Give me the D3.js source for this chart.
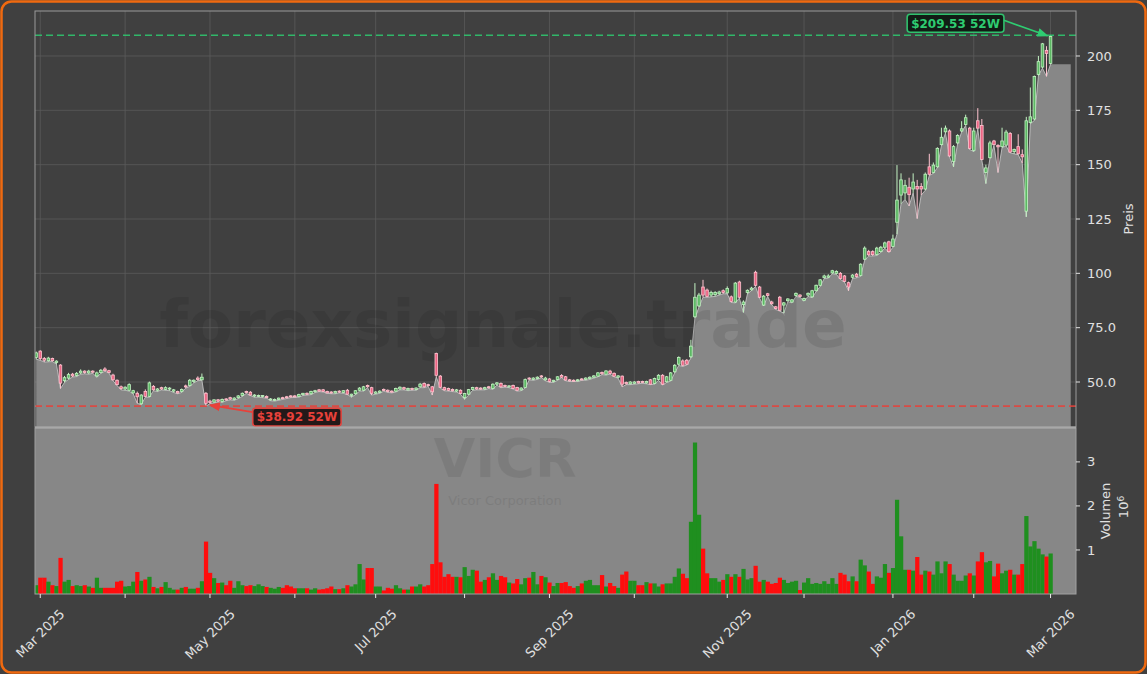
<!DOCTYPE html>
<html><head><meta charset="utf-8">
<script src="https://cdn.jsdelivr.net/npm/d3@7"></script>
<style>html,body{margin:0;padding:0;background:#404040;}svg{display:block;}</style>
</head><body>
<svg id="chart" width="1147" height="674"></svg>
<script>
// ---------------- DATA (VICR daily, Feb 28 2025 .. Mar 2 2026) ----------------
const opens = [
61.3,64.2,60.8,59.8,60.8,59.0,57.8,50.6,51.8,53.6,
53.0,54.2,55.0,54.2,55.0,52.8,54.4,56.0,55.2,53.2,
50.8,47.8,46.8,46.2,45.0,44.8,40.0,45.6,43.4,48.0,
46.2,47.4,46.6,46.8,45.8,45.6,45.6,48.2,48.4,50.2,
51.8,51.0,44.8,41.2,40.8,41.8,41.0,42.2,42.8,42.0,
42.8,43.8,45.6,45.3,43.6,43.4,43.4,43.4,41.8,41.6,
42.0,42.8,43.2,43.6,43.6,43.4,44.2,44.8,44.6,45.6,
46.4,46.4,45.6,45.4,45.0,45.8,45.2,46.2,43.8,44.6,
46.2,46.2,48.4,47.4,44.8,45.2,46.6,46.2,45.8,45.8,
46.8,47.4,46.4,47.0,46.6,47.8,49.3,48.8,47.8,63.1,
52.7,47.4,47.0,46.6,45.8,46.2,42.8,44.4,46.6,47.4,
47.2,46.8,47.8,47.0,49.0,49.3,48.4,47.8,48.4,47.5,
46.4,47.5,51.8,51.2,51.6,52.8,51.0,51.4,50.2,51.2,
53.0,52.4,51.0,50.8,50.6,51.4,51.2,51.6,52.2,52.7,
54.4,53.6,55.0,54.0,52.2,52.7,49.8,49.2,49.4,50.2,
50.2,49.6,51.0,49.3,51.2,53.1,50.1,50.8,54.7,58.2,
59.7,60.0,61.6,80.0,85.0,93.7,92.3,90.0,90.2,90.6,
92.0,91.0,89.2,86.8,96.0,85.6,91.2,92.4,100.5,93.7,
85.4,90.6,86.8,84.6,89.0,85.4,87.4,86.8,89.8,90.0,
87.6,90.0,89.2,92.0,94.5,98.0,98.2,100.2,100.0,100.0,
98.8,95.7,98.2,99.6,99.0,106.5,110.0,110.0,108.7,110.0,
112.0,114.5,112.4,123.5,136.0,137.0,139.6,138.8,140.0,140.0,
138.8,149.0,146.4,149.0,159.2,165.1,165.5,151.5,160.0,165.5,
168.5,166.8,156.6,170.2,168.0,146.4,153.2,160.9,158.8,158.3,
159.0,164.3,156.0,158.3,154.6,128.6,169.4,171.0,191.5,194.9,
202.6,196.6];
const highs = [
64.0,64.6,61.5,61.6,61.2,60.0,58.2,52.8,54.2,54.2,
54.6,55.8,55.4,55.6,55.4,54.8,56.0,56.8,55.6,53.8,
51.2,48.4,48.0,49.4,46.4,45.6,44.4,46.6,50.2,48.6,
47.2,47.8,48.0,47.6,46.8,46.0,47.0,48.8,51.4,51.2,
52.6,53.9,45.4,41.8,42.0,42.2,42.4,42.6,43.2,43.0,
44.0,45.2,46.0,45.8,44.4,44.2,44.0,43.8,42.6,42.4,
42.8,43.2,43.6,44.0,44.0,44.6,45.0,45.2,46.0,46.4,
46.8,46.8,46.0,45.8,46.0,46.2,46.2,46.8,44.6,46.2,
47.6,48.2,48.8,47.8,45.8,46.2,47.0,46.6,46.2,47.4,
48.0,47.8,47.4,47.4,47.6,49.6,49.8,49.2,48.2,63.5,
53.2,47.8,47.4,47.0,46.8,46.6,45.0,46.8,47.8,47.8,
47.6,47.8,48.2,49.4,50.0,49.8,48.8,48.6,48.8,47.8,
47.6,51.6,52.2,52.2,52.6,53.2,52.4,51.8,51.0,52.6,
53.6,52.8,51.4,51.2,51.4,51.8,52.2,52.6,53.2,54.6,
54.8,55.4,55.6,54.4,53.2,53.0,50.2,50.4,50.4,50.6,
50.6,50.6,51.4,52.0,53.6,53.6,52.8,54.6,58.2,61.8,
60.4,60.6,69.4,95.5,91.0,97.0,93.0,92.0,91.8,92.0,
92.6,94.0,89.8,96.0,96.6,87.6,92.6,93.8,101.2,94.2,
90.0,91.0,87.4,85.0,89.6,86.8,88.6,88.2,91.2,90.4,
88.8,91.2,92.4,94.8,97.4,99.4,99.6,101.6,101.4,100.6,
99.2,96.2,99.6,100.2,104.6,112.4,110.8,110.6,112.2,112.6,
114.6,115.0,117.8,149.8,146.0,143.0,144.0,146.0,143.0,141.5,
146.4,155.0,151.0,158.0,167.0,168.0,166.2,159.0,164.0,170.0,
173.0,167.4,167.0,176.0,171.0,150.0,161.0,161.4,159.4,167.0,
166.0,165.0,157.4,164.0,157.0,172.0,185.5,191.0,200.0,206.0,
204.5,209.53];
const lows = [
60.5,60.0,59.2,59.3,59.4,58.3,47.0,49.8,51.2,52.3,
52.5,53.6,53.8,53.6,54.0,52.2,54.0,55.0,54.2,50.6,
48.4,46.4,46.2,45.8,44.6,40.2,39.6,43.0,43.0,46.0,
45.6,46.4,46.2,46.0,45.2,44.6,45.2,47.2,48.0,49.6,
50.6,50.8,38.92,40.0,40.4,40.8,40.6,41.4,41.8,41.6,
42.4,43.4,44.8,43.8,43.0,43.0,42.8,42.6,41.4,41.2,
41.6,42.0,42.4,42.8,42.9,43.0,43.8,44.0,44.2,45.2,
45.6,45.4,44.8,44.6,44.6,45.0,44.8,44.2,43.0,44.2,
45.8,45.8,47.4,44.0,44.4,44.8,45.8,45.2,45.0,45.4,
46.4,46.4,46.0,46.2,46.2,47.4,47.4,48.0,44.0,52.4,
47.2,46.0,45.8,45.6,45.4,44.4,42.0,44.0,46.2,46.4,
46.4,46.4,47.0,46.6,48.6,47.4,47.6,47.4,46.8,45.8,
46.0,47.2,51.0,50.8,51.2,52.0,50.6,49.8,49.8,50.8,
52.0,50.6,50.2,50.2,50.2,50.8,50.8,51.2,51.8,52.4,
53.4,53.2,53.6,52.4,51.8,47.8,48.8,48.8,49.0,49.2,
49.4,49.2,48.8,49.0,50.8,48.6,49.8,50.4,54.2,57.6,
57.2,57.8,61.0,79.4,84.5,89.0,89.0,89.2,89.4,90.0,
90.6,90.6,86.6,86.4,88.6,82.0,90.6,92.0,94.0,88.6,
85.0,89.4,85.6,83.4,82.6,81.7,87.0,86.4,89.4,89.0,
87.2,89.4,88.8,91.6,94.0,97.6,97.8,99.8,99.6,97.2,
96.0,92.0,97.6,98.0,98.6,106.0,108.0,108.0,108.2,109.6,
111.6,109.6,112.0,118.0,132.0,134.0,131.0,137.0,125.2,136.0,
138.2,145.0,146.0,148.6,158.8,164.6,153.6,149.0,159.6,165.0,
168.0,157.0,156.0,166.4,152.0,141.3,152.8,158.8,146.4,157.8,
158.6,155.4,155.0,154.6,150.7,126.0,168.8,170.4,191.0,194.4,
190.6,196.2];
const closes = [
63.4,60.8,60.0,61.0,59.8,59.6,49.5,52.0,53.4,52.8,
54.0,55.0,54.4,55.0,54.5,54.2,55.4,55.2,54.4,51.0,
48.8,47.0,47.6,48.8,46.0,43.2,44.0,43.4,49.6,46.4,
46.8,46.8,47.4,47.2,46.4,45.0,46.6,47.8,50.8,50.8,
51.2,52.2,40.2,40.6,41.8,41.2,42.0,41.8,42.2,42.6,
43.6,44.8,45.2,44.0,44.0,43.8,43.8,42.8,42.2,42.0,
42.6,42.4,42.8,43.2,43.2,44.2,44.8,44.4,45.6,46.0,
45.8,45.6,45.0,45.0,45.6,45.4,46.0,44.4,44.4,46.0,
47.2,47.8,47.8,44.8,45.4,45.8,46.2,45.6,45.4,47.0,
47.6,46.8,47.0,46.6,47.2,49.0,47.8,48.4,45.5,53.1,
47.6,46.4,46.2,46.0,46.4,44.7,44.7,46.5,47.5,46.8,
46.8,47.4,47.4,49.0,49.6,47.8,48.0,48.2,47.0,46.2,
47.2,51.1,51.4,51.8,52.2,52.4,51.8,50.2,50.8,52.4,
52.2,50.9,50.5,50.5,51.0,51.2,51.8,52.2,52.8,54.2,
53.8,55.1,53.9,52.7,52.8,49.0,49.2,50.0,50.0,49.6,
49.8,50.2,49.0,51.6,53.1,49.0,52.4,54.2,57.7,61.3,
57.7,58.2,66.5,89.0,90.0,90.0,89.4,91.2,91.2,91.4,
91.2,93.0,87.0,95.5,89.0,86.8,92.2,93.2,94.5,89.0,
89.5,89.8,86.0,83.8,83.0,86.4,88.2,87.8,90.8,89.4,
88.4,90.8,92.0,94.5,97.0,98.8,98.8,101.2,100.8,97.6,
96.3,93.7,99.2,98.5,104.2,111.6,108.5,108.6,111.6,112.0,
114.0,110.0,115.8,133.7,143.0,140.5,136.2,142.0,138.8,138.8,
145.6,145.6,149.8,157.5,162.6,166.8,154.0,158.3,163.4,166.5,
171.6,157.5,165.5,166.8,152.4,148.5,160.0,159.2,158.2,160.9,
165.0,155.8,157.0,155.0,153.6,170.2,172.0,190.6,197.4,205.6,
201.2,209.0];
// volume in millions of shares
const volumes = [
0.20,0.37,0.37,0.28,0.20,0.18,0.82,0.28,0.32,0.18,
0.20,0.18,0.20,0.17,0.14,0.37,0.14,0.14,0.14,0.14,
0.28,0.30,0.17,0.18,0.28,0.50,0.30,0.33,0.39,0.16,
0.13,0.16,0.27,0.14,0.10,0.10,0.14,0.16,0.12,0.12,
0.14,0.29,1.19,0.48,0.36,0.25,0.26,0.20,0.30,0.14,
0.29,0.20,0.18,0.20,0.18,0.22,0.18,0.16,0.14,0.12,
0.16,0.14,0.20,0.17,0.13,0.13,0.13,0.13,0.10,0.13,
0.10,0.11,0.13,0.17,0.11,0.11,0.13,0.20,0.17,0.22,
0.68,0.33,0.59,0.59,0.17,0.17,0.08,0.14,0.12,0.20,
0.13,0.10,0.10,0.17,0.17,0.22,0.17,0.20,0.68,2.50,
0.72,0.39,0.45,0.39,0.39,0.38,0.61,0.41,0.55,0.53,
0.28,0.32,0.38,0.47,0.32,0.41,0.38,0.26,0.24,0.34,
0.22,0.36,0.37,0.50,0.22,0.41,0.38,0.26,0.18,0.25,
0.25,0.27,0.18,0.14,0.18,0.24,0.30,0.32,0.20,0.20,
0.43,0.17,0.25,0.18,0.14,0.44,0.51,0.30,0.30,0.20,
0.20,0.27,0.24,0.24,0.17,0.22,0.24,0.24,0.39,0.58,
0.46,0.36,1.64,3.44,1.80,1.03,0.47,0.36,0.36,0.28,
0.32,0.45,0.39,0.45,0.39,0.57,0.33,0.36,0.64,0.28,
0.32,0.28,0.23,0.25,0.37,0.32,0.25,0.28,0.30,0.09,
0.26,0.36,0.23,0.25,0.23,0.29,0.23,0.36,0.23,0.48,
0.44,0.29,0.40,0.29,0.78,0.65,0.51,0.23,0.40,0.37,
0.68,0.48,0.59,2.14,1.31,0.55,0.55,0.53,0.84,0.44,
0.53,0.51,0.44,0.74,0.47,0.74,0.68,0.44,0.30,0.30,
0.42,0.47,0.42,0.74,0.95,0.72,0.75,0.40,0.69,0.47,
0.53,0.55,0.44,0.44,0.68,1.77,1.08,1.20,1.03,0.90,
0.85,0.92];
// the shaded price area continues flat for a few sessions after the last candle
const areaTail = [196.2,196.2,196.2,196.2,196.2];
const holidays = ["2025-04-18","2025-05-26","2025-06-19","2025-07-04","2025-09-01",
                  "2025-11-27","2025-12-25","2026-01-01","2026-01-19","2026-02-16"];
const monthLabels = ["Mar 2025","","May 2025","","Jul 2025","","Sep 2025","","Nov 2025","","Jan 2026","","Mar 2026"];
const priceTicks = [50,75,100,125,150,175,200];
const priceTickLabels = ["50.0","75.0","100","125","150","175","200"];
const volumeTicks = [1,2,3];
const volumeTickLabels = ["1","2","3"];
const ticker = "VICR", company = "Vicor Corporation", watermark = "forexsignale.trade";

// ---------------- trading calendar ----------------
const dates = [];
for (let d = new Date(Date.UTC(2025,1,28)); dates.length < closes.length; d.setUTCDate(d.getUTCDate()+1)) {
  const dow = d.getUTCDay(), s = d.toISOString().slice(0,10);
  if (dow === 0 || dow === 6 || holidays.includes(s)) continue;
  dates.push(new Date(d));
}
const monthTickIdx = [];
for (let i = 1; i < dates.length; i++) if (dates[i].getUTCMonth() !== dates[i-1].getUTCMonth()) monthTickIdx.push(i);

// ---------------- layout ----------------
const W = 1147, H = 674;
const X0 = 35, X1 = 1076, PY0 = 11, PY1 = 427, VY0 = 428, VY1 = 594;
const FONT = "DejaVu Sans";
const svg = d3.select("#chart");
svg.append("rect").attr("x",0).attr("y",0).attr("width",W).attr("height",H).attr("fill","#404040");

const n = closes.length;
const x = d3.scaleLinear().domain([-0.3, n + 5.3]).range([X0, X1]);
const y = d3.scaleLinear().domain([29.3, 220.7]).range([PY1, PY0]);
const yv = d3.scaleLinear().domain([0, 3.77]).range([VY1, VY0]);
const step = x(1) - x(0);

const defs = svg.append("defs");
defs.append("clipPath").attr("id","clipP").append("rect").attr("x",X0).attr("y",PY0).attr("width",X1-X0).attr("height",PY1-PY0);
defs.append("clipPath").attr("id","clipV").append("rect").attr("x",X0).attr("y",VY0).attr("width",X1-X0).attr("height",VY1-VY0);
function marker(id, color){
  defs.append("marker").attr("id",id).attr("viewBox","0 0 10 10").attr("refX",9).attr("refY",5)
    .attr("markerWidth",7).attr("markerHeight",7).attr("orient","auto-start-reverse")
    .append("path").attr("d","M0,1 L10,5 L0,9 z").attr("fill",color);
}
marker("arrG","#2ecc71"); marker("arrR","#e8413a");

// ---------------- price panel ----------------
const gP = svg.append("g");
const gridC = "#5a5a5a";
gP.selectAll("line.hg").data(priceTicks).join("line")
  .attr("x1",X0).attr("x2",X1).attr("y1",d=>y(d)).attr("y2",d=>y(d))
  .attr("stroke",gridC).attr("stroke-width",0.8);
gP.selectAll("line.vg").data(monthTickIdx).join("line")
  .attr("x1",d=>x(d)).attr("x2",d=>x(d)).attr("y1",PY0).attr("y2",PY1)
  .attr("stroke",gridC).attr("stroke-width",0.8);

const areaData = lows.map((v,i)=>[i,v]).concat(areaTail.map((v,k)=>[n+k,v]));
const pc = gP.append("g").attr("clip-path","url(#clipP)");
pc.append("path").datum(areaData)
  .attr("d", d3.area().x(d=>x(d[0])).y0(PY1).y1(d=>y(d[1])))
  .attr("fill","#878787");
pc.append("path").datum(lows.map((v,i)=>[i,v]))
  .attr("d", d3.line().x(d=>x(d[0])).y(d=>y(d[1])))
  .attr("fill","none").attr("stroke","#c8c8c8").attr("stroke-width",1).attr("opacity",0.85);

pc.append("text").attr("x",503).attr("y",347).attr("text-anchor","middle")
  .attr("font-family",FONT).attr("font-weight","bold").attr("font-size",66)
  .attr("fill","#000").attr("opacity",0.09).text(watermark);

const idx = d3.range(n);
const up = i => closes[i] >= opens[i];
const cg = pc.append("g");
cg.selectAll("line.wick").data(idx).join("line")
  .attr("x1",i=>x(i)).attr("x2",i=>x(i)).attr("y1",i=>y(highs[i])).attr("y2",i=>y(lows[i]))
  .attr("stroke",i=>up(i)?"#c2f2c2":"#ffc4d0").attr("stroke-width",1);
const bw = 2.6;
cg.selectAll("rect.body").data(idx).join("rect")
  .attr("x",i=>x(i)-bw/2).attr("width",bw)
  .attr("y",i=>y(Math.max(opens[i],closes[i])))
  .attr("height",i=>Math.max(1, Math.abs(y(opens[i])-y(closes[i]))))
  .attr("fill",i=>up(i)?"#5cb864":"#ec6584")
  .attr("stroke",i=>up(i)?"#c2f2c2":"#ffc4d0").attr("stroke-width",0.8);

// 52-week high / low markers
const hiI = d3.maxIndex(highs), loI = d3.minIndex(lows);
const hiV = highs[hiI], loV = lows[loI];
pc.append("line").attr("x1",X0).attr("x2",X1).attr("y1",y(hiV)).attr("y2",y(hiV))
  .attr("stroke","#2ecc71").attr("stroke-width",1.6).attr("stroke-dasharray","7,4").attr("opacity",0.85);
pc.append("line").attr("x1",X0).attr("x2",X1).attr("y1",y(loV)).attr("y2",y(loV))
  .attr("stroke","#e8413a").attr("stroke-width",1.6).attr("stroke-dasharray","7,4").attr("opacity",0.85);

// panel frame
gP.append("rect").attr("x",X0).attr("y",PY0).attr("width",X1-X0).attr("height",PY1-PY0)
  .attr("fill","none").attr("stroke","#9a9a9a").attr("stroke-width",1);

// price axis (right)
const ga = svg.append("g");
priceTicks.forEach((t,k)=>{
  ga.append("line").attr("x1",X1).attr("x2",X1+4).attr("y1",y(t)).attr("y2",y(t)).attr("stroke","#e0e0e0");
  ga.append("text").attr("x",X1+11).attr("y",y(t)).attr("dy","0.35em")
    .attr("font-family",FONT).attr("font-size",13).attr("fill","#e0e0e0").text(priceTickLabels[k]);
});
ga.append("text").attr("transform",`translate(1133,${(PY0+PY1)/2}) rotate(-90)`).attr("text-anchor","middle")
  .attr("font-family",FONT).attr("font-size",13).attr("fill","#e0e0e0").text("Preis");

// annotations
function annot(label, color, fill, tipX, tipY, boxCx, boxCy, mk){
  const g = svg.append("g");
  const t = g.append("text").attr("x",boxCx).attr("y",boxCy).attr("dy","0.36em").attr("text-anchor","middle")
    .attr("font-family",FONT).attr("font-weight","bold").attr("font-size",12).attr("fill",color).text(label);
  const bb = t.node().getBBox();
  const bx = bb.x-4, bwid = bb.width+8, by = boxCy-9, bh = 18;
  g.insert("rect","text").attr("x",bx).attr("y",by).attr("width",bwid).attr("height",bh).attr("rx",3)
    .attr("fill",fill).attr("stroke",color).attr("stroke-width",1.6).attr("opacity",0.92);
  const sx = (tipX > boxCx) ? bx + bwid : bx;
  const sy = (tipX > boxCx) ? boxCy - 3 : boxCy - 5;
  g.append("line").attr("x1",sx).attr("y1",sy).attr("x2",tipX).attr("y2",tipY)
    .attr("stroke",color).attr("stroke-width",1.6).attr("marker-end",`url(#${mk})`);
}
annot(`$${hiV.toFixed(2)} 52W`, "#2ecc71", "#0e1a12", x(hiI)-3, y(hiV)+0.5, x(hiI)-95, y(hiV)-12, "arrG");
annot(`$${loV.toFixed(2)} 52W`, "#e8413a", "#1c1010", x(loI)+4, y(loV)-1, x(loI)+91, y(loV)+11, "arrR");

// ---------------- volume panel ----------------
const gV = svg.append("g");
gV.append("rect").attr("x",X0).attr("y",VY0).attr("width",X1-X0).attr("height",VY1-VY0).attr("fill","#878787");
gV.append("text").attr("x",505).attr("y",477).attr("text-anchor","middle")
  .attr("font-family",FONT).attr("font-weight","bold").attr("font-size",54)
  .attr("fill","#000").attr("opacity",0.07).text(ticker);
gV.append("text").attr("x",505).attr("y",505).attr("text-anchor","middle")
  .attr("font-family",FONT).attr("font-size",13)
  .attr("fill","#000").attr("opacity",0.07).text(company);
const vc = gV.append("g").attr("clip-path","url(#clipV)");
vc.selectAll("rect.vol").data(idx).join("rect")
  .attr("x",i=>x(i)-step/2).attr("width",step+0.2)
  .attr("y",i=>yv(volumes[i])).attr("height",i=>VY1-yv(volumes[i]))
  .attr("fill",i=>up(i)?"#1f8f1f":"#ff0d0d");
gV.append("rect").attr("x",X0).attr("y",VY0).attr("width",X1-X0).attr("height",VY1-VY0)
  .attr("fill","none").attr("stroke","#a0a0a0").attr("stroke-width",1);
// separator
svg.append("line").attr("x1",X0).attr("x2",X1).attr("y1",(PY1+VY0)/2).attr("y2",(PY1+VY0)/2)
  .attr("stroke","#a8a8a8").attr("stroke-width",2);

volumeTicks.forEach((t,k)=>{
  gV.append("line").attr("x1",X1).attr("x2",X1+4).attr("y1",yv(t)).attr("y2",yv(t)).attr("stroke","#e0e0e0");
  gV.append("text").attr("x",X1+11).attr("y",yv(t)).attr("dy","0.35em")
    .attr("font-family",FONT).attr("font-size",13).attr("fill","#e0e0e0").text(volumeTickLabels[k]);
});
const vl = gV.append("text").attr("transform",`translate(1110,${(VY0+VY1)/2}) rotate(-90)`).attr("text-anchor","middle")
  .attr("font-family",FONT).attr("font-size",13).attr("fill","#e0e0e0");
vl.append("tspan").attr("x",0).attr("dy",0).text("Volumen");
vl.append("tspan").attr("x",4).attr("dy","1.35em").text("10");
vl.append("tspan").attr("dy","-0.45em").attr("font-size",9).text("6");

// x axis (month ticks)
const gx = svg.append("g");
monthTickIdx.forEach((i,k)=>{
  gx.append("line").attr("x1",x(i)).attr("x2",x(i)).attr("y1",VY1).attr("y2",VY1+4).attr("stroke","#e8e8e8");
  const lab = monthLabels[k] || "";
  if (!lab) return;
  const t = gx.append("text").attr("text-anchor","middle").attr("dominant-baseline","central")
    .attr("font-family",FONT).attr("font-size",13).attr("fill","#e0e0e0").text(lab);
  const w = t.node().getComputedTextLength();
  const cy = 607 + (w + 13) * 0.3536;
  t.attr("transform",`translate(${x(i)},${cy}) rotate(-45)`);
});

// figure border
svg.append("rect").attr("x",1.5).attr("y",1.5).attr("width",W-3).attr("height",H-3).attr("rx",10)
  .attr("fill","none").attr("stroke","#f0690f").attr("stroke-width",2.5);
</script>
</body></html>
